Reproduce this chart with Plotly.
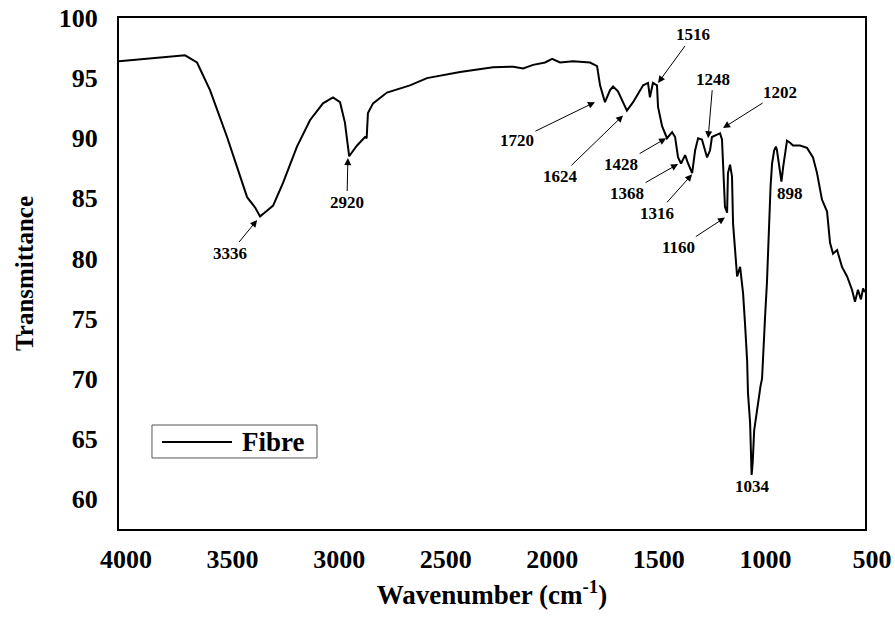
import plotly.graph_objects as go

wavenumber = [4000, 3850, 3690, 3634, 3573, 3493, 3446, 3399, 3360, 3338, 3310, 3277, 3230,
              3165, 3104, 3043, 2996, 2963, 2940, 2920, 2900, 2883, 2846, 2838, 2832, 2808,
              2743, 2635, 2555, 2400, 2245, 2150, 2104, 2057, 2001, 1968, 1931, 1870, 1790,
              1757, 1743, 1720, 1696, 1682, 1659, 1617, 1588, 1541, 1518, 1509, 1495, 1476,
              1471, 1452, 1429, 1405, 1391, 1377, 1363, 1344, 1330, 1311, 1297, 1283, 1265,
              1241, 1227, 1218, 1194, 1180, 1171, 1157, 1147, 1143, 1133, 1124, 1119, 1100,
              1086, 1072, 1063, 1053, 1049, 1039, 1032, 1027, 1020, 1002, 990, 983, 978, 969,
              960, 955, 950, 943, 936, 926, 918, 913, 905, 892, 884, 876, 866, 850, 838, 805,
              772, 744, 725, 702, 678, 664, 650, 631, 608, 584, 561, 547, 533, 519, 509, 500]
transmittance = [96.4, 96.65, 96.9, 96.3, 94.0, 90.1, 87.6, 85.1, 84.2, 83.5, 83.9, 84.4, 86.3,
                 89.3, 91.5, 92.9, 93.4, 93.0, 91.3, 88.5, 89.0, 89.4, 90.1, 90.0, 92.1, 92.9,
                 93.8, 94.4, 95.0, 95.5, 95.9, 95.95, 95.8, 96.1, 96.3, 96.6, 96.3, 96.4, 96.3,
                 96.0, 94.4, 93.0, 94.0, 94.3, 93.9, 92.3, 93.0, 94.4, 94.6, 93.4, 94.6, 94.4,
                 92.6, 91.0, 90.0, 90.5, 90.1, 88.4, 87.9, 88.6, 87.9, 87.1, 89.0, 90.0, 89.9,
                 88.4, 89.0, 90.1, 90.3, 90.4, 89.9, 84.3, 83.8, 87.1, 87.8, 86.8, 82.9, 78.5,
                 79.3, 77.1, 74.6, 71.5, 68.8, 66.3, 62.0, 63.0, 65.7, 68.2, 69.4, 70.0, 72.4, 75.1,
                 78.0, 80.4, 83.0, 86.0, 87.9, 89.0, 89.3, 89.0, 88.0, 86.4, 87.6, 88.8, 89.8, 89.6,
                 89.4, 89.4, 89.2, 88.4, 87.1, 84.9, 83.9, 81.3, 80.4, 80.7, 79.3, 78.5, 77.4, 76.4,
                 77.4, 76.6, 77.5, 77.2]

peak_labels = ["3336", "2920", "1720", "1624", "1516", "1428", "1368", "1316", "1248", "1202", "1160"]
peak_tip_x = [3352, 2926, 1767, 1635, 1471, 1433, 1377, 1311, 1236, 1166, 1157]
peak_tip_y = [83.2, 88.35, 93.0, 91.9, 94.6, 90.0, 87.85, 87.0, 90.0, 90.85, 83.4]
label_dx = [-27, -1, -78, -63, 35, -45, -51, -35, 5, 57, -46]
label_dy = [33, 44, 38, 61, -48, 26, 29, 39, -59, -36, 30]

plain_labels = ["1034", "898"]
plain_x = [1030, 852]
plain_y = [61.07, 85.44]

legend_label = "Fibre"
x_ticks = [4000, 3500, 3000, 2500, 2000, 1500, 1000, 500]
y_ticks = [60, 65, 70, 75, 80, 85, 90, 95, 100]

FONT = "Liberation Serif"

fig = go.Figure()
fig.add_trace(go.Scatter(x=wavenumber, y=transmittance, mode="lines", name=legend_label,
                         showlegend=False, line=dict(color="black", width=2)))

annotations = []
for t, x, y, dx, dy in zip(peak_labels, peak_tip_x, peak_tip_y, label_dx, label_dy):
    annotations.append(dict(x=x, y=y, xref="x", yref="y", text="<b>" + t + "</b>",
                            showarrow=True, ax=dx, ay=dy, arrowhead=2, arrowsize=1.4,
                            arrowwidth=1, arrowcolor="black",
                            font=dict(family=FONT, size=17, color="black")))
for t, x, y in zip(plain_labels, plain_x, plain_y):
    annotations.append(dict(x=x, y=y, xref="x", yref="y", text="<b>" + t + "</b>",
                            showarrow=False, font=dict(family=FONT, size=17, color="black")))

# hand-drawn legend box (line sample + label) to match the reference's long sample line
annotations.append(dict(x=0.1622, y=0.1703, xref="paper", yref="paper", xanchor="left",
                        yanchor="middle", showarrow=False, text="<b>" + legend_label + "</b>",
                        font=dict(family=FONT, size=27, color="black")))
shapes = [
    dict(type="rect", xref="paper", yref="paper", x0=0.0442, x1=0.2654, y0=0.139, y1=0.2035,
         line=dict(color="#555555", width=1), fillcolor="white", layer="below"),
    dict(type="line", xref="paper", yref="paper", x0=0.0576, x1=0.1515, y0=0.1703, y1=0.1703,
         line=dict(color="black", width=2)),
]

fig.update_layout(
    width=895, height=617,
    margin=dict(l=119, r=30, t=18, b=88),
    paper_bgcolor="white", plot_bgcolor="white",
    font=dict(family=FONT, color="black"),
    showlegend=False,
    annotations=annotations,
    shapes=shapes,
)
fig.update_xaxes(range=[4000, 500], tickvals=x_ticks, automargin=False,
                 ticktext=["<b>%d</b>" % v for v in x_ticks],
                 showgrid=False, zeroline=False, showline=True, linecolor="black", linewidth=2,
                 mirror=True, ticks="", tickfont=dict(family=FONT, size=26, color="black"),
                 ticklabelstandoff=6, ticklabelshift=-7,
                 title=dict(text="<b>Wavenumber (cm<sup>-1</sup>)</b>",
                            font=dict(family=FONT, size=27, color="black"), standoff=12))
fig.update_yaxes(range=[57.5, 100], tickvals=y_ticks, automargin=False,
                 ticktext=["<b>%d</b>" % v for v in y_ticks],
                 showgrid=False, zeroline=False, showline=True, linecolor="black", linewidth=2,
                 mirror=True, ticks="", tickfont=dict(family=FONT, size=26, color="black"),
                 ticklabelstandoff=14,
                 title=dict(text="<b>Transmittance</b>",
                            font=dict(family=FONT, size=25, color="black"), standoff=18))

fig.write_html("out.html")
